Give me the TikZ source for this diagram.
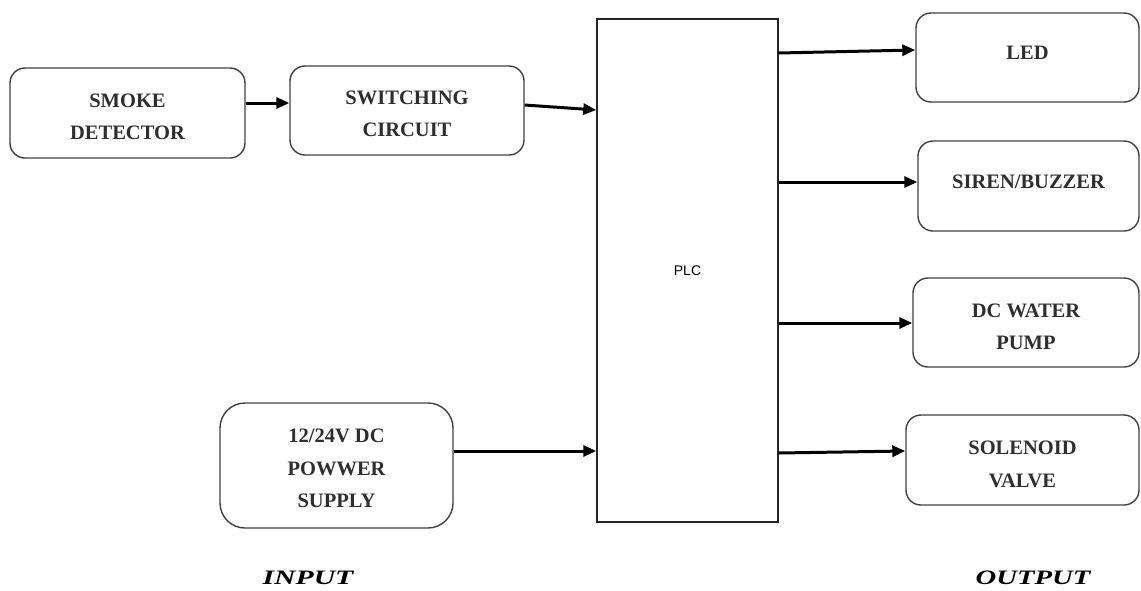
\documentclass[tikz,border=0pt]{standalone}
\usepackage{fontspec}
\usepackage{graphicx}
\setmainfont{Liberation Serif}
\setsansfont{Liberation Sans}
\usetikzlibrary{arrows.meta}
\begin{document}
\begin{tikzpicture}[x=1pt,y=-1pt,
  blk/.style={draw=black!75, line width=1.4pt, rounded corners=15pt, inner sep=0pt},
  txt/.style={align=center, font=\fontsize{20.5}{32.5}\selectfont\bfseries, text=black!82, inner sep=0pt},
  arr/.style={line width=3pt, -{Triangle[length=13pt,width=11pt]}},
  lbl/.style={font=\fontsize{20.5}{24}\selectfont\bfseries\itshape}]
\useasboundingbox (0,0) rectangle (1141,590);
\node[blk, minimum width=235pt, minimum height=90pt,
  label={[txt,yshift=-4pt]center:{SMOKE\\DETECTOR}}] (sd) at (127.5,113) {};
\node[blk, minimum width=234pt, minimum height=89pt,
  label={[txt,yshift=-3.5pt]center:{SWITCHING\\CIRCUIT}}] (sc) at (407,110.5) {};
\node[blk, rounded corners=25pt, minimum width=233pt, minimum height=125pt,
  label={[txt,yshift=-3pt]center:{12/24V DC\\POWWER\\SUPPLY}}] (ps) at (336.5,465.5) {};
\node[draw=black!85, line width=1.4pt, minimum width=181pt, minimum height=503pt,
  font=\sffamily\fontsize{14}{16}\selectfont] (plc) at (687.5,270.5) {PLC};
\node[blk, minimum width=223pt, minimum height=89pt,
  label={[txt,yshift=5pt]center:{LED}}] (led) at (1027.5,57.5) {};
\node[blk, minimum width=221pt, minimum height=90pt,
  label={[txt,yshift=4pt]center:{SIREN/BUZZER}}] (sir) at (1028.5,186) {};
\node[blk, minimum width=226pt, minimum height=89pt,
  label={[txt,yshift=-4.5pt]center:{DC WATER\\PUMP}}] (pump) at (1026,322.5) {};
\node[blk, minimum width=233pt, minimum height=90pt,
  label={[txt,yshift=-4.5pt]center:{SOLENOID\\VALVE}}] (valve) at (1022.5,460) {};
\node[lbl] (in) at (308,578) {\scalebox{1.45}[1]{INPUT}};
\node[lbl] (out) at (1033,578) {\scalebox{1.4}[1]{OUTPUT}};
\draw[arr] (sd.east |- 0,103) -- (sc.west |- 0,103);
\draw[arr] (sc.east |- 0,105) -- (plc.west |- 0,110);
\draw[arr] (ps.east |- 0,451) -- (plc.west |- 0,451);
\draw[arr] (plc.east |- 0,53) -- (led.west |- 0,50);
\draw[arr] (plc.east |- 0,182) -- (sir.west |- 0,182);
\draw[arr] (plc.east |- 0,323) -- (pump.west |- 0,323);
\draw[arr] (plc.east |- 0,453) -- (valve.west |- 0,451);
\end{tikzpicture}
\end{document}
